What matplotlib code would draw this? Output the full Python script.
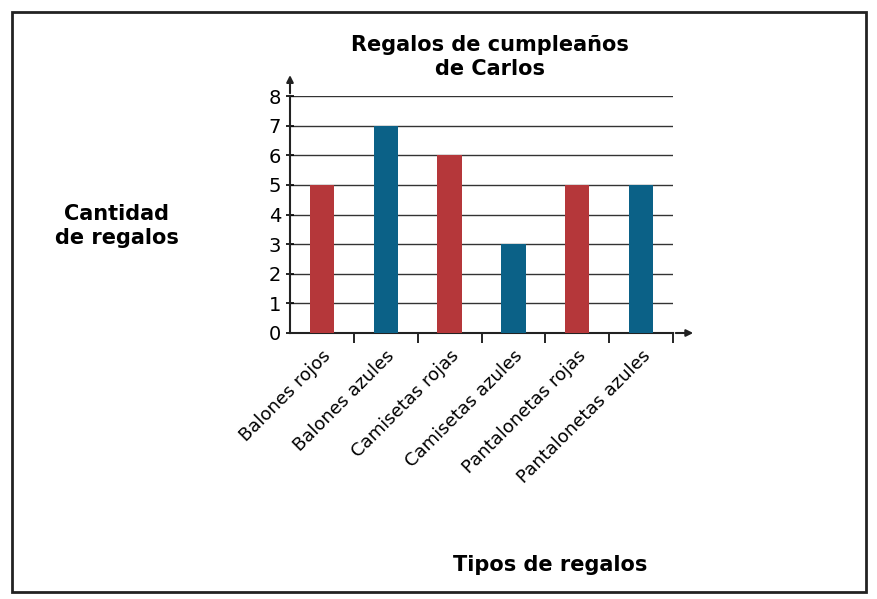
import matplotlib
matplotlib.use("Agg")
import matplotlib.pyplot as plt
from matplotlib.patches import Rectangle

categories = ["Balones rojos", "Balones azules", "Camisetas rojas", "Camisetas azules",
              "Pantalonetas rojas", "Pantalonetas azules"]
values = [5, 7, 6, 3, 5, 5]
colors = ["#b5373a", "#0b6187", "#b5373a", "#0b6187", "#b5373a", "#0b6187"]

W, H = 878, 599
fig = plt.figure(figsize=(W/100, H/100), dpi=100)
fig.patches.append(Rectangle((12/W, 1-592/H), 854/W, 580/H, transform=fig.transFigure,
                             fill=False, lw=2, ec="#222222"))
ax = fig.add_axes([290/W, 1-333/H, 383/W, 237/H])
x = list(range(len(categories)))
ax.bar(x, values, width=0.38, color=colors, zorder=3)
ax.set_xlim(-0.5, 5.5)
ax.set_ylim(0, 8)
ax.set_yticks(range(9))
ax.yaxis.grid(True, color="#333333", lw=1, zorder=0)
for s in ["top", "right"]:
    ax.spines[s].set_visible(False)
for s in ["left", "bottom"]:
    ax.spines[s].set_color("#222222")
    ax.spines[s].set_linewidth(1.5)
ax.set_xticks([i + 0.5 for i in x], minor=True)
ax.tick_params(axis="x", which="minor", length=7, direction="out", width=1.2)
ax.set_xticks(x)
ax.set_xticklabels(categories, rotation=45, ha="right", rotation_mode="anchor", fontsize=13)
ax.tick_params(axis="x", which="major", length=0, pad=10)
ax.tick_params(axis="y", length=6, direction="inout", labelsize=14, width=1.2)
ax.annotate("", xy=(0, 1.1), xytext=(0, 1.0), xycoords="axes fraction",
            arrowprops=dict(arrowstyle="-|>", color="#222222", lw=1.5), annotation_clip=False)
ax.annotate("", xy=(1.06, 0), xytext=(1.0, 0), xycoords="axes fraction",
            arrowprops=dict(arrowstyle="-|>", color="#222222", lw=1.5), annotation_clip=False)
fig.text(490/W, 1-57/H, "Regalos de cumpleaños\nde Carlos", ha="center", va="center",
         fontsize=15, fontweight="bold", linespacing=1.2)
fig.text(117/W, 1-226/H, "Cantidad\nde regalos", ha="center", va="center",
         fontsize=15, fontweight="bold", linespacing=1.2)
fig.text(550/W, 1-565/H, "Tipos de regalos", ha="center", va="center",
         fontsize=15, fontweight="bold")
fig.savefig("out.png", dpi=100)
